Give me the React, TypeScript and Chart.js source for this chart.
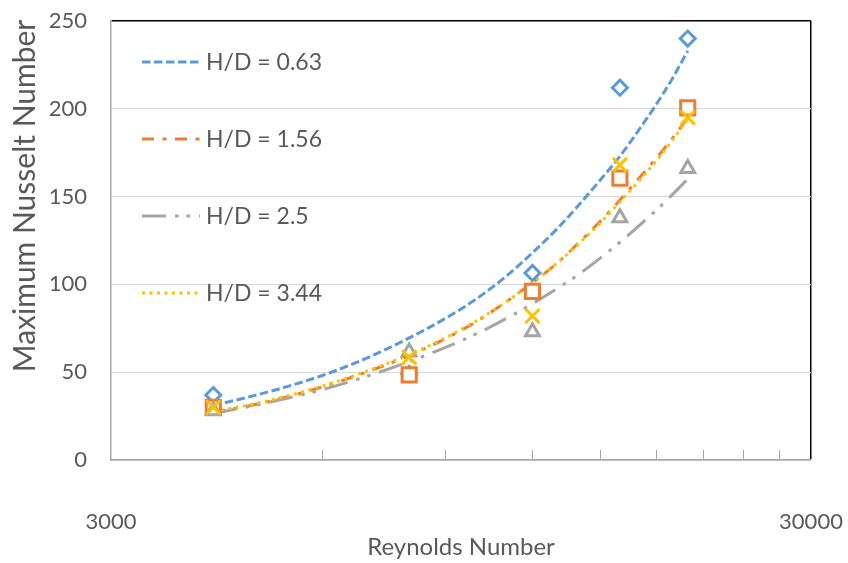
import React, { useEffect, useRef } from "react";
import { Chart, registerables } from "chart.js";

Chart.register(...registerables);

// ---- data ----
const REYNOLDS = [4200, 8000, 12000, 16000, 20000];
const NU_HD_063 = [37, 49, 106.5, 212, 240];
const NU_HD_156 = [30, 48.5, 96, 160.5, 200.5];
const NU_HD_25 = [28, 61.5, 73, 138, 166];
const NU_HD_344 = [30, 58.5, 82, 168, 195];

// trendline values
const TREND_RE = [4200, 5000, 6000, 7000, 8000, 9000, 10000, 11000, 12000, 13000, 14000, 15000, 16000, 17000, 18000, 19000, 20000];
const TREND_HD_063 = [31, 38.5, 48, 58.5, 69.5, 80.5, 92, 104.5, 118, 131.5, 145.5, 159.5, 173, 187.5, 202, 217, 233];
const TREND_HD_156 = [27, 33, 41.5, 50.5, 59.5, 69, 79, 90, 101, 112, 124, 136, 148, 160, 171.5, 183, 195];
const TREND_HD_25 = [26.5, 32.5, 40, 48, 56, 64, 72, 80.5, 89, 97.5, 106, 115, 124, 133, 142, 151, 160];
const TREND_HD_344 = [27.5, 33.5, 42, 51, 60, 69.5, 79.5, 90, 101, 112, 123.5, 135, 147, 158.5, 170, 182, 194];

const LEGEND_LABELS = ["H/D = 0.63", "H/D = 1.56", "H/D = 2.5", "H/D = 3.44"];
const X_LABEL_TICKS = [3000, 30000];
const X_MINOR_TICKS = [6000, 9000, 12000, 15000, 18000, 21000, 24000, 27000];
const X_MIN = 3000;
const X_MAX = 30000;
const Y_MIN = 0;
const Y_MAX = 250;
const Y_STEP = 50;
const X_TITLE = "Reynolds Number";
const Y_TITLE = "Maximum Nusselt Number";

const COLORS = ["#5B9BD5", "#ED7D31", "#A5A5A5", "#FFC000"];
const DASHES = [
  [8.5, 3.5],
  [12, 8.5, 4, 8.5],
  [24, 9, 3.5, 8, 3.5, 9],
  [3, 4.5],
];
const TEXT = "#595959";
const FONT = "Lato";

const toPts = (xs: number[], ys: number[]) => xs.map((x, i) => ({ x, y: ys[i] }));

const extrasPlugin = {
  id: "extras",
  afterDraw(chart: any) {
    const { ctx, chartArea, scales } = chart;
    const xs = scales.x;
    ctx.save();
    // minor tick marks on the x axis (inside)
    ctx.strokeStyle = "#A6A6A6";
    ctx.lineWidth = 1;
    X_MINOR_TICKS.forEach((v) => {
      const px = Math.round(xs.getPixelForValue(v)) + 0.5;
      ctx.beginPath();
      ctx.moveTo(px, chartArea.bottom);
      ctx.lineTo(px, chartArea.bottom - 10);
      ctx.stroke();
    });
    // legend inside the plot
    const lineDs = chart.data.datasets.filter((d: any) => d.isTrend);
    lineDs.forEach((d: any, i: number) => {
      const y = chartArea.top + 41 + i * 77;
      const x0 = chartArea.left + 31;
      ctx.beginPath();
      ctx.setLineDash(d.borderDash || []);
      ctx.strokeStyle = d.borderColor;
      ctx.lineWidth = d.borderWidth;
      ctx.moveTo(x0, y);
      ctx.lineTo(x0 + 58, y);
      ctx.stroke();
      ctx.setLineDash([]);
      ctx.fillStyle = TEXT;
      ctx.font = `23px ${FONT}`;
      ctx.textAlign = "left";
      ctx.textBaseline = "middle";
      ctx.fillText(d.label, x0 + 64, y + 1);
    });
    // y axis title
    ctx.translate(25, 196);
    ctx.rotate(-Math.PI / 2);
    ctx.fillStyle = TEXT;
    ctx.font = `30px ${FONT}`;
    ctx.textAlign = "center";
    ctx.textBaseline = "middle";
    ctx.fillText(Y_TITLE, 0, 0);
    ctx.restore();
  },
};

export default function App() {
  const ref = useRef<HTMLCanvasElement | null>(null);
  useEffect(() => {
    if (!ref.current) return;
    const markerStyles = ["rectRot", "rect", "triangle", "crossRot"];
    const markerRadius = [7.5, 10, 8, 10];
    const seriesY = [NU_HD_063, NU_HD_156, NU_HD_25, NU_HD_344];
    const trendY = [TREND_HD_063, TREND_HD_156, TREND_HD_25, TREND_HD_344];
    const markerSets = seriesY.map((ys, i) => ({
      label: LEGEND_LABELS[i] + " data",
      data: toPts(REYNOLDS, ys),
      showLine: false,
      pointStyle: markerStyles[i],
      pointRadius: markerRadius[i],
      pointBorderWidth: 3,
      pointBorderColor: COLORS[i],
      pointBackgroundColor: "#FFFFFF",
      borderColor: COLORS[i],
      backgroundColor: "#FFFFFF",
      order: 4 - i,
    }));
    const trendSets = trendY.map((ys, i) => ({
      label: LEGEND_LABELS[i],
      isTrend: true,
      data: toPts(TREND_RE, ys),
      showLine: true,
      pointRadius: 0,
      borderColor: COLORS[i],
      borderWidth: 3,
      borderDash: DASHES[i],
      borderCapStyle: "butt",
      tension: 0.4,
      cubicInterpolationMode: "monotone",
      fill: false,
      order: 20 - i,
    }));
    const chart = new Chart(ref.current, {
      type: "scatter",
      data: { datasets: [...trendSets, ...markerSets] as any },
      options: {
        animation: false,
        responsive: false,
        layout: { padding: { top: 21, right: 37, left: 0, bottom: 0 } },
        plugins: { legend: { display: false }, tooltip: { enabled: false } },
        scales: {
          x: {
            type: "logarithmic",
            min: X_MIN,
            max: X_MAX,
            afterBuildTicks: (s: any) => {
              s.ticks = X_LABEL_TICKS.map((v) => ({ value: v }));
            },
            afterFit: (s: any) => {
              s.height = 103;
              s.paddingLeft = 0;
              s.paddingRight = 0;
            },
            ticks: {
              autoSkip: false,
              maxRotation: 0,
              padding: 49,
              color: TEXT,
              font: { family: FONT, size: 22 },
              callback: (v: any) => String(v),
            },
            grid: {
              drawTicks: false,
              lineWidth: 1.5,
              color: (c: any) => (c.tick && c.tick.value === X_MAX ? "#000000" : "rgba(0,0,0,0)"),
            },
            border: { color: "#A6A6A6", width: 1.5 },
            title: {
              display: true,
              text: X_TITLE,
              color: TEXT,
              font: { family: FONT, size: 24 },
              padding: { top: 0, bottom: 1 },
            },
          },
          y: {
            min: Y_MIN,
            max: Y_MAX,
            afterFit: (s: any) => {
              s.width = 111;
              s.paddingTop = 0;
              s.paddingBottom = 0;
            },
            ticks: {
              stepSize: Y_STEP,
              padding: 24,
              color: TEXT,
              font: { family: FONT, size: 22 },
            },
            grid: {
              drawTicks: false,
              lineWidth: (c: any) => (c.tick && c.tick.value === Y_MAX ? 1.5 : 1),
              color: (c: any) => (c.tick && c.tick.value === Y_MAX ? "#000000" : "#D9D9D9"),
            },
            border: { color: "#A6A6A6", width: 1.5 },
          },
        },
      } as any,
      plugins: [extrasPlugin],
    });
    return () => chart.destroy();
  }, []);
  return (
    <div style={{ position: "fixed", left: 0, top: 0, width: 848, height: 563, background: "#fff" }}>
      <canvas ref={ref} width={848} height={563} style={{ width: 848, height: 563 }} />
    </div>
  );
}
